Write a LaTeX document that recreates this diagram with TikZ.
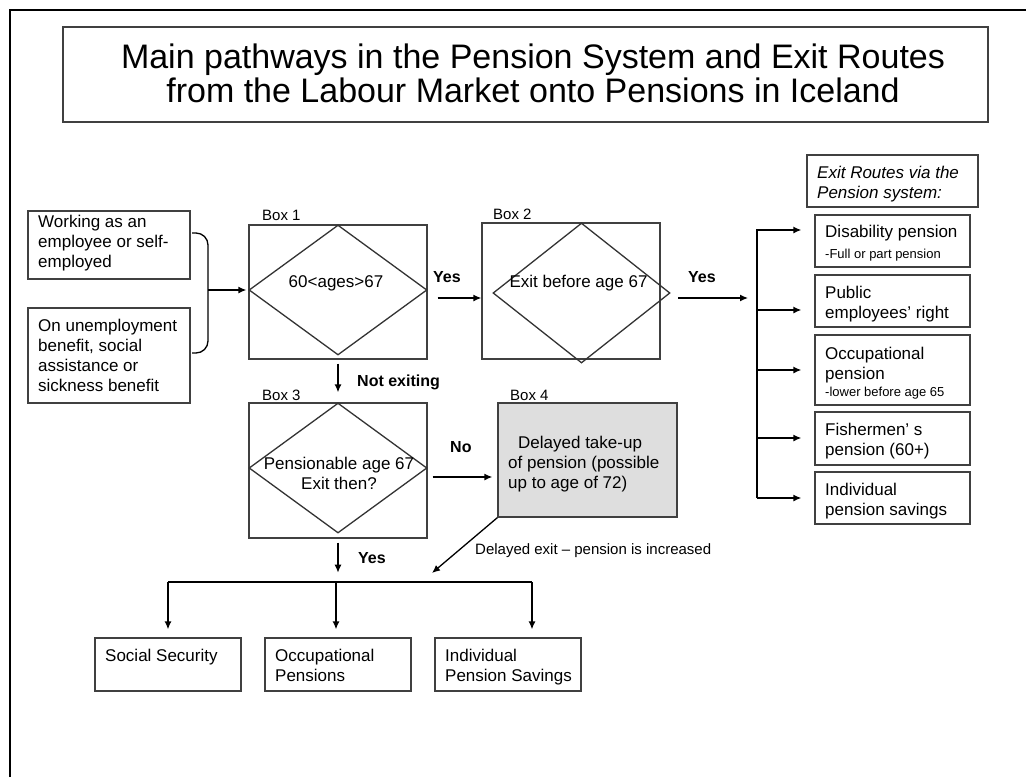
\documentclass[tikz,border=0pt]{standalone}
\usepackage{fontspec}
\setmainfont{Liberation Sans}
\usetikzlibrary{arrows.meta,fit,shapes.geometric,calc}
\newcommand\mylines[1]{\parbox[t]{220pt}{\raggedright #1}}
\newcommand\smallfnt{\fontsize{13}{15}\selectfont}
\begin{document}
\begin{tikzpicture}[x=1pt,y=-1pt,
  box/.style={draw=black!75, line width=1.3pt, inner sep=0pt, rectangle},
  dia/.style={diamond, draw=black!80, line width=1.3pt, inner sep=0pt},
  conn/.style={draw=black, line width=1.3pt},
  arr/.style={conn, -{Latex[length=8pt,width=7pt]}},
  txt/.style={anchor=base west, inner sep=0pt, font=\fontsize{17}{20}\selectfont},
  ctxt/.style={anchor=base, inner sep=0pt, font=\fontsize{17}{20}\selectfont},
  lbl/.style={anchor=base west, inner sep=0pt, font=\fontsize{15}{18}\selectfont},
  blbl/.style={anchor=base west, inner sep=0pt, font=\fontsize{16}{19}\selectfont\bfseries}
]
\useasboundingbox (0,0) rectangle (1026,777);
% outer frame
\draw[line width=2.5pt] (10,777) -- (10,10) -- (1026,10);

% title
\node[box, fit={(63,27) (988,122)}] (title) {};
\node[anchor=base, inner sep=0pt, font=\fontsize{34}{34}\selectfont] (titletxt) at (533,68)
  {\parbox[t]{950pt}{\centering Main pathways in the Pension System and Exit Routes\\from the Labour Market onto Pensions in Iceland}};

% left boxes
\node[box, fit={(28,211) (190,279)}] (wk) {};
\node[txt] (wkt) at (38,227) {\mylines{Working as an\\employee or self-\\employed}};
\node[box, fit={(28,308) (190,403)}] (um) {};
\node[txt] (umt) at (38,331) {\mylines{On unemployment\\benefit, social\\assistance or\\sickness benefit}};

% brace
\coordinate (bt) at (192,233);
\coordinate (bb) at (192,353);
\coordinate (bm) at (208,290);
\draw[conn, rounded corners=12pt] (bt) -| (bm) |- (bb);

% Box 1
\node[box, fit={(249,225) (427,359)}] (b1) {};
\node[dia, minimum width=178pt, minimum height=130pt] (d1) at (338,290) {};
\node[lbl] (b1l) at (262,220) {Box 1};
\node[ctxt] (d1t) at (336,287) {60<ages>67};
\draw[arr, shorten >=2pt] (bm) -- (bm -| b1.west);

% Box 2
\node[box, fit={(482,223) (660,359)}] (b2) {};
\node[dia, minimum width=177pt, minimum height=140pt] (d2) at (581.5,293) {};
\node[lbl] (b2l) at (493,219) {Box 2};
\node[ctxt] (d2t) at (578.5,287) {Exit before age 67};
\coordinate (y1s) at ($(b1.east)+(10,6)$);
\draw[arr] (y1s) -- (y1s -| b2.west);
\node[blbl] (yes1) at (433,282) {Yes};

% Box 3
\node[box, fit={(249,403) (427,538)}] (b3) {};
\node[dia, minimum width=178pt, minimum height=130pt] (d3) at (338,468) {};
\node[lbl] (b3l) at (262,400) {Box 3};
\node[ctxt] (d3t) at (339,469) {\parbox[t]{200pt}{\centering Pensionable age 67\\Exit then?}};
\draw[arr, shorten >=10pt] ($(b1.south)+(0,4)$) -- (b3.north);
\node[blbl] (notex) at (357,386) {Not exiting};

% Box 4
\node[box, fill=black!13, fit={(498,403) (677,517)}] (b4) {};
\node[lbl] (b4l) at (510,400) {Box 4};
\node[txt] (b4t) at (508,448) {\mylines{\hspace*{10pt}Delayed take-up\\of pension (possible\\up to age of 72)}};
\coordinate (nos) at ($(b3.east)+(5,6.5)$);
\draw[arr, shorten >=5pt] (nos) -- (nos -| b4.west);
\node[blbl] (no) at (450,452) {No};

% Yes below box 3
\coordinate (y3e) at ($(b3.south)+(0,34)$);
\draw[arr] ($(b3.south)+(0,4)$) -- (y3e);
\node[blbl] (yes3) at (358,563) {Yes};

% delayed exit diagonal
\coordinate (dj) at (432,573);
\draw[arr] (b4.south west) -- (dj);
\node[lbl] (dtxt) at (475,554) {Delayed exit – pension is increased};

% bottom boxes
\node[box, fit={(95,638) (241,691)}] (ss) {};
\node[txt] (sst) at (105,661) {Social Security};
\node[box, fit={(265,638) (411,691)}] (op) {};
\node[txt] (opt) at (275,661) {\mylines{Occupational\\Pensions}};
\node[box, fit={(435,638) (581,691)}] (ip) {};
\node[txt] (ipt) at (445,661) {\mylines{Individual\\Pension Savings}};

\coordinate (bus1) at (168,582);
\coordinate (bus2) at (336,582);
\coordinate (bus3) at (532,582);
\draw[conn] (bus1) -- (bus3);
\draw[arr, shorten >=8pt] (bus1) -- (bus1 |- ss.north);
\draw[arr, shorten >=8pt] (bus2) -- (bus2 |- op.north);
\draw[arr, shorten >=8pt] (bus3) -- (bus3 |- ip.north);

% right side: exit routes
\node[box, fit={(807,155) (978,207)}] (eh) {};
\node[txt, font=\fontsize{17}{20}\selectfont\itshape] (eht) at (817,178) {\mylines{Exit Routes via the\\Pension system:}};

\node[box, fit={(815,215) (970,267)}] (e1) {};
\node[txt] (e1t) at (825,237) {\mylines{Disability pension\\[1pt]{\smallfnt -Full or part pension}}};
\node[box, fit={(815,275) (970,327)}] (e2) {};
\node[txt] (e2t) at (825,298) {\mylines{Public\\employees’ right}};
\node[box, fit={(815,335) (970,405)}] (e3) {};
\node[txt] (e3t) at (825,359) {\mylines{Occupational\\pension\\[-3pt]{\smallfnt -lower before age 65}}};
\node[box, fit={(815,412) (970,465)}] (e4) {};
\node[txt] (e4t) at (825,435) {\mylines{Fishermen’ s\\pension (60+)}};
\node[box, fit={(815,472) (970,524)}] (e5) {};
\node[txt] (e5t) at (825,495) {\mylines{Individual\\pension savings}};

\coordinate (s1) at (757,230);
\coordinate (s2) at (757,310);
\coordinate (s3) at (757,370);
\coordinate (s4) at (757,438);
\coordinate (s5) at (757,498);
\draw[arr, shorten >=13pt] (s5) -- (s1) -- (s1 -| e1.west);
\draw[arr, shorten >=13pt] (s2) -- (s2 -| e2.west);
\draw[arr, shorten >=13pt] (s3) -- (s3 -| e3.west);
\draw[arr, shorten >=13pt] (s4) -- (s4 -| e4.west);
\draw[arr, shorten >=13pt] (s5) -- (s5 -| e5.west);

\coordinate (y2s) at (678,298);
\draw[arr, shorten >=9pt] (y2s) -- (y2s -| s1);
\node[blbl] (yes2) at (688,282) {Yes};
\end{tikzpicture}
\end{document}
